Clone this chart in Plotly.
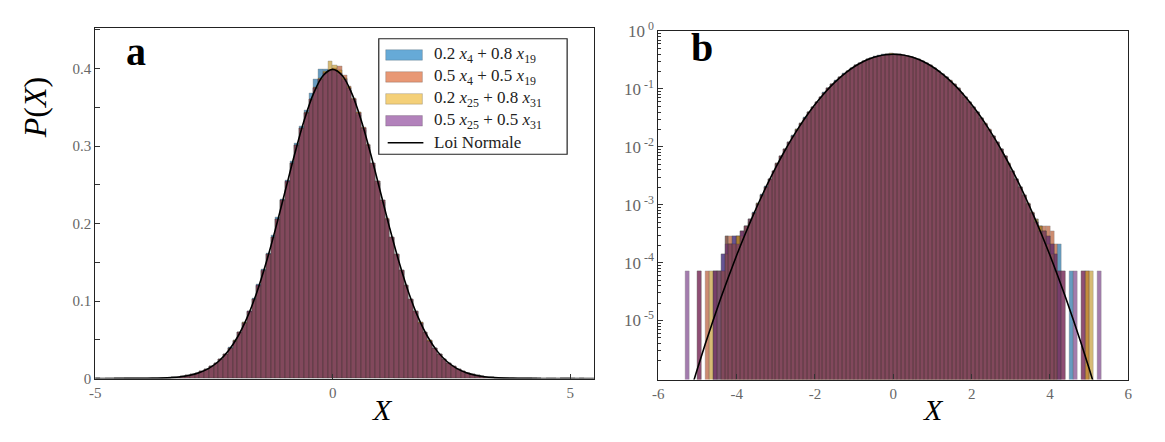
import numpy as np
import plotly.graph_objects as go

# ---------------- data ----------------
bin_width = 0.1
bin_centers = np.round(np.arange(-5.35, 5.351, bin_width), 2)  # 108 bins

series_names = [
    "0.2 <i>x</i><sub>4</sub> + 0.8 <i>x</i><sub>19</sub>",
    "0.5 <i>x</i><sub>4</sub> + 0.5 <i>x</i><sub>19</sub>",
    "0.2 <i>x</i><sub>25</sub> + 0.8 <i>x</i><sub>31</sub>",
    "0.5 <i>x</i><sub>25</sub> + 0.5 <i>x</i><sub>31</sub>",
]
# bar face colours (shaded, drawn at 60 % opacity) and legend swatch colours
series_colors = ["#005A96", "#AE4214", "#BE8E1A", "#672678"]
series_rgba = ["rgba(0,114,189,0.6)", "rgba(217,83,25,0.6)", "rgba(237,177,32,0.6)", "rgba(126,47,142,0.6)"]

density_02x4_08x19 = [
    0, 0, 0, 0, 0, 0, 0, 0, 7.1e-5, 7.1e-5, 1.42e-4, 2.84e-4, 2.13e-4, 2.84e-4, 2.84e-4, 3.55e-4, 4.26e-4, 5.68e-4,
    0.00075, 0.00108, 0.00150, 0.00208, 0.00283, 0.00388, 0.00521, 0.00695, 0.00920, 0.0121, 0.0157, 0.0201,
    0.0255, 0.0321, 0.0401, 0.0494, 0.0603, 0.0729, 0.0872, 0.1034, 0.1212, 0.1408, 0.1620, 0.1845, 0.2078,
    0.2320, 0.2564, 0.2805, 0.3038, 0.3262, 0.3466, 0.3680, 0.3862, 0.3985, 0.3990, 0.3975,
    0.3962, 0.3920, 0.3840, 0.3720, 0.3575, 0.3400, 0.3202, 0.2985, 0.2755, 0.2518, 0.2277, 0.2040, 0.1810,
    0.1588, 0.1380, 0.1188, 0.1012, 0.0855, 0.0713, 0.0590, 0.0483, 0.0392, 0.0314, 0.0249, 0.0196, 0.0153,
    0.0118, 0.00900, 0.00680, 0.00508, 0.00377, 0.00276, 0.00200, 0.00144, 0.00102, 0.00071,
    5.68e-4, 4.26e-4, 3.55e-4, 2.84e-4, 2.13e-4, 1.42e-4, 2.13e-4, 0, 0, 7.1e-5, 0, 0, 0, 0, 0, 0, 0, 0,
]
density_05x4_05x19 = [
    0, 0, 0, 0, 7.1e-5, 0, 7.1e-5, 0, 7.1e-5, 0, 7.1e-5, 2.84e-4, 2.84e-4, 2.13e-4, 2.84e-4, 3.55e-4, 4.26e-4, 4.97e-4,
    0.00072, 0.00103, 0.00147, 0.00201, 0.00280, 0.00379, 0.00516, 0.00684, 0.00912, 0.0118, 0.0156, 0.0197,
    0.0253, 0.0316, 0.0397, 0.0487, 0.0598, 0.0719, 0.0865, 0.1021, 0.1203, 0.1391, 0.1607, 0.1824, 0.2062,
    0.2296, 0.2545, 0.2777, 0.3015, 0.3226, 0.3434, 0.3600, 0.3757, 0.3862, 0.3950, 0.3980,
    0.4005, 0.4030, 0.3920, 0.3770, 0.3620, 0.3440, 0.3238, 0.3018, 0.2785, 0.2546, 0.2303, 0.2063, 0.1830,
    0.1607, 0.1397, 0.1203, 0.1025, 0.0866, 0.0723, 0.0598, 0.0490, 0.0397, 0.0318, 0.0253, 0.0199, 0.0155,
    0.0120, 0.00912, 0.00690, 0.00516, 0.00383, 0.00280, 0.00204, 0.00147, 0.00105, 0.00074,
    4.97e-4, 4.26e-4, 4.26e-4, 4.26e-4, 3.55e-4, 2.13e-4, 7.1e-5, 7.1e-5, 0, 0, 0, 0, 7.1e-5, 7.1e-5, 0, 0, 0, 0,
]
density_02x25_08x31 = [
    0, 0, 0, 0, 0, 0, 0, 7.1e-5, 0, 7.1e-5, 7.1e-5, 1.42e-4, 2.13e-4, 2.13e-4, 2.84e-4, 2.84e-4, 4.26e-4, 5.68e-4,
    0.00073, 0.00105, 0.00145, 0.00204, 0.00278, 0.00382, 0.00513, 0.00688, 0.00907, 0.0119, 0.0154, 0.0199,
    0.0251, 0.0318, 0.0395, 0.0489, 0.0595, 0.0722, 0.0862, 0.1025, 0.1198, 0.1396, 0.1602, 0.1829, 0.2057,
    0.2301, 0.2539, 0.2783, 0.3009, 0.3233, 0.3427, 0.3608, 0.3750, 0.3870, 0.3960, 0.4095,
    0.4040, 0.3980, 0.3870, 0.3760, 0.3610, 0.3432, 0.3232, 0.3013, 0.2782, 0.2543, 0.2300, 0.2061, 0.1828,
    0.1605, 0.1395, 0.1201, 0.1024, 0.0864, 0.0722, 0.0597, 0.0489, 0.0396, 0.0318, 0.0252, 0.0198, 0.0155,
    0.0119, 0.00910, 0.00688, 0.00515, 0.00381, 0.00279, 0.00203, 0.00146, 0.00104, 0.00073,
    5.68e-4, 4.26e-4, 3.55e-4, 2.13e-4, 1.42e-4, 7.1e-5, 0, 0, 0, 0, 0, 0, 0, 7.1e-5, 7.1e-5, 0, 0, 0,
]
density_05x25_05x31 = [
    0, 7.1e-5, 0, 0, 7.1e-5, 0, 0, 0, 7.1e-5, 7.1e-5, 1.42e-4, 2.13e-4, 2.13e-4, 2.84e-4, 2.13e-4, 3.55e-4, 4.26e-4, 5.68e-4,
    0.00073, 0.00104, 0.00146, 0.00203, 0.00279, 0.00381, 0.00514, 0.00687, 0.00909, 0.0119, 0.0155, 0.0198,
    0.0252, 0.0317, 0.0396, 0.0488, 0.0596, 0.0721, 0.0863, 0.1023, 0.1200, 0.1394, 0.1604, 0.1827, 0.2059,
    0.2299, 0.2541, 0.2780, 0.3011, 0.3230, 0.3429, 0.3605, 0.3752, 0.3867, 0.3945, 0.3984,
    0.3984, 0.3945, 0.3867, 0.3752, 0.3605, 0.3429, 0.3230, 0.3011, 0.2780, 0.2541, 0.2299, 0.2059, 0.1827,
    0.1604, 0.1394, 0.1200, 0.1023, 0.0863, 0.0721, 0.0596, 0.0488, 0.0396, 0.0317, 0.0252, 0.0198, 0.0155,
    0.0119, 0.00909, 0.00687, 0.00514, 0.00381, 0.00279, 0.00203, 0.00146, 0.00104, 0.00073,
    4.97e-4, 3.55e-4, 3.55e-4, 2.84e-4, 2.13e-4, 1.42e-4, 7.1e-5, 7.1e-5, 0, 0, 7.1e-5, 0, 7.1e-5, 0, 0, 0, 7.1e-5, 0,
]
series_values = [density_02x4_08x19, density_05x4_05x19, density_02x25_08x31, density_05x25_05x31]

# Normal law P(X) read at X = -5.6 ... 5.6 (step 0.2)
normal_name = "Loi Normale"
normal_x = np.round(np.arange(-5.6, 5.601, 0.2), 1)
normal_p = [
    6.18e-8, 1.858e-7, 5.362e-7, 1.4867e-6, 3.9613e-6, 1.0146e-5, 2.4955e-5, 5.896e-5, 1.3383e-4,
    2.9194e-4, 6.119e-4, 1.2322e-3, 2.3841e-3, 4.4318e-3, 7.9155e-3, 0.013583, 0.022395, 0.035475,
    0.053991, 0.078950, 0.110921, 0.149727, 0.194186, 0.241971, 0.289692, 0.333225, 0.368270, 0.391043,
    0.398942,
    0.391043, 0.368270, 0.333225, 0.289692, 0.241971, 0.194186, 0.149727, 0.110921, 0.078950, 0.053991,
    0.035475, 0.022395, 0.013583, 7.9155e-3, 4.4318e-3, 2.3841e-3, 1.2322e-3, 6.119e-4, 2.9194e-4,
    1.3383e-4, 5.896e-5, 2.4955e-5, 1.0146e-5, 3.9613e-6, 1.4867e-6, 5.362e-7, 1.858e-7, 6.18e-8,
]

xticks_a = [-5, 0, 5]
xticks_b = [-6, -4, -2, 0, 2, 4, 6]
yticks_a = [0, 0.1, 0.2, 0.3, 0.4]
yticks_b = [1, 0.1, 0.01, 1e-3, 1e-4, 1e-5]
yticks_b_text = ["10<sup> 0</sup>", "10<sup> -1</sup>", "10<sup> -2</sup>", "10<sup> -3</sup>",
                 "10<sup> -4</sup>", "10<sup> -5</sup>"]

# ---------------- figure ----------------
W, H = 1165, 442
SERIF = "Liberation Serif, Times New Roman, serif"
fig = go.Figure()

for panel, (xa, ya) in enumerate([("x", "y"), ("x2", "y2")]):
    for name, color, vals in zip(series_names, series_colors, series_values):
        fig.add_trace(go.Bar(
            x=bin_centers, y=[v if v > 0 else None for v in vals],
            width=bin_width, name=name, showlegend=False,
            marker=dict(color=color, line=dict(width=0.35, color="#262626")), opacity=0.6,
            xaxis=xa, yaxis=ya,
        ))
    fig.add_trace(go.Scatter(
        x=normal_x, y=normal_p, mode="lines", name=normal_name, showlegend=False,
        line=dict(color="black", width=1.6, shape="spline"),
        xaxis=xa, yaxis=ya,
    ))


def px_x(p):
    return p / W


def px_y(p):
    return 1 - p / H


def tick_text(vals):
    return [str(v) for v in vals]


tickfont = dict(family=SERIF, size=15, color="#666666")
axis_common = dict(showline=True, linecolor="#222", linewidth=1.2, mirror=True, ticks="inside",
                   ticklen=5, tickcolor="#333", showgrid=False, zeroline=False, tickfont=tickfont)

minor_log = [k * 10.0 ** e for e in range(-6, 0) for k in range(2, 10)]

fig.update_layout(
    width=W, height=H, margin=dict(l=0, r=0, t=0, b=0),
    paper_bgcolor="white", plot_bgcolor="white", barmode="overlay", bargap=0,
    font=dict(family=SERIF), showlegend=False,
    xaxis=dict(domain=[px_x(90), px_x(593)], range=[-5, 5.5], tickvals=xticks_a,
               ticktext=tick_text(xticks_a), anchor="y", **axis_common),
    yaxis=dict(domain=[px_y(384), px_y(17)], range=[0, 0.452], tickvals=yticks_a,
               ticktext=["0", "0.1", "0.2", "0.3", "0.4"],
               minor=dict(ticks="inside", ticklen=5, dtick=0.05, tickcolor="#333"),
               anchor="x", **axis_common),
    xaxis2=dict(domain=[px_x(658), px_x(1132)], range=[-6, 6], tickvals=xticks_b,
                ticktext=tick_text(xticks_b), anchor="y2", **axis_common),
    yaxis2=dict(domain=[px_y(385), px_y(20)], type="log", range=[-6.02, 0],
                tickvals=yticks_b, ticktext=yticks_b_text,
                minor=dict(ticks="inside", ticklen=3, tickvals=minor_log, tickcolor="#333"),
                anchor="x2", **{**axis_common, "tickfont": dict(family=SERIF, size=17, color="#666666")}),
)

# ---- legend drawn inside panel a (wide swatches like the original) ----
LEG_X0, LEG_X1, LEG_Y0, LEG_Y1 = 376, 566, 28, 149
row_y = [45, 68, 91, 114, 137]
fig.add_shape(type="rect", xref="paper", yref="paper", x0=px_x(LEG_X0), x1=px_x(LEG_X1),
              y0=px_y(LEG_Y1), y1=px_y(LEG_Y0), line=dict(color="#222", width=1.2),
              fillcolor="white", layer="above")
for ry, name, rgba in zip(row_y[:4], series_names, series_rgba):
    fig.add_shape(type="rect", xref="paper", yref="paper", x0=px_x(383), x1=px_x(420),
                  y0=px_y(ry + 5.5), y1=px_y(ry - 5.5), line=dict(color="rgba(38,38,38,0.35)", width=0.6),
                  fillcolor=rgba, layer="above")
    fig.add_annotation(xref="paper", yref="paper", x=px_x(430), y=px_y(ry), text=name,
                       showarrow=False, xanchor="left", yanchor="middle",
                       font=dict(family=SERIF, size=17, color="#222"))
fig.add_shape(type="line", xref="paper", yref="paper", x0=px_x(385), x1=px_x(421),
              y0=px_y(row_y[4]), y1=px_y(row_y[4]), line=dict(color="black", width=1.5), layer="above")
fig.add_annotation(xref="paper", yref="paper", x=px_x(430), y=px_y(row_y[4]), text=normal_name,
                   showarrow=False, xanchor="left", yanchor="middle",
                   font=dict(family=SERIF, size=17, color="#222"))

annots = [
    dict(text="<b>a</b>", x=px_x(131), y=px_y(41), font=dict(size=40, family=SERIF, color="black")),
    dict(text="<b>b</b>", x=px_x(702), y=px_y(37), font=dict(size=40, family=SERIF, color="black")),
    dict(text="<i>P</i>(<i>X</i>)", x=px_x(30), y=px_y(100), textangle=-90,
         font=dict(size=32, family=SERIF, color="black")),
    dict(text="<i>X</i>", x=px_x(380), y=px_y(416), font=dict(size=30, family=SERIF, color="black")),
    dict(text="<i>X</i>", x=px_x(936), y=px_y(416), font=dict(size=30, family=SERIF, color="black")),
]
for a in annots:
    fig.add_annotation(xref="paper", yref="paper", showarrow=False, xanchor="center", yanchor="middle", **a)

fig.write_html("out.html")
